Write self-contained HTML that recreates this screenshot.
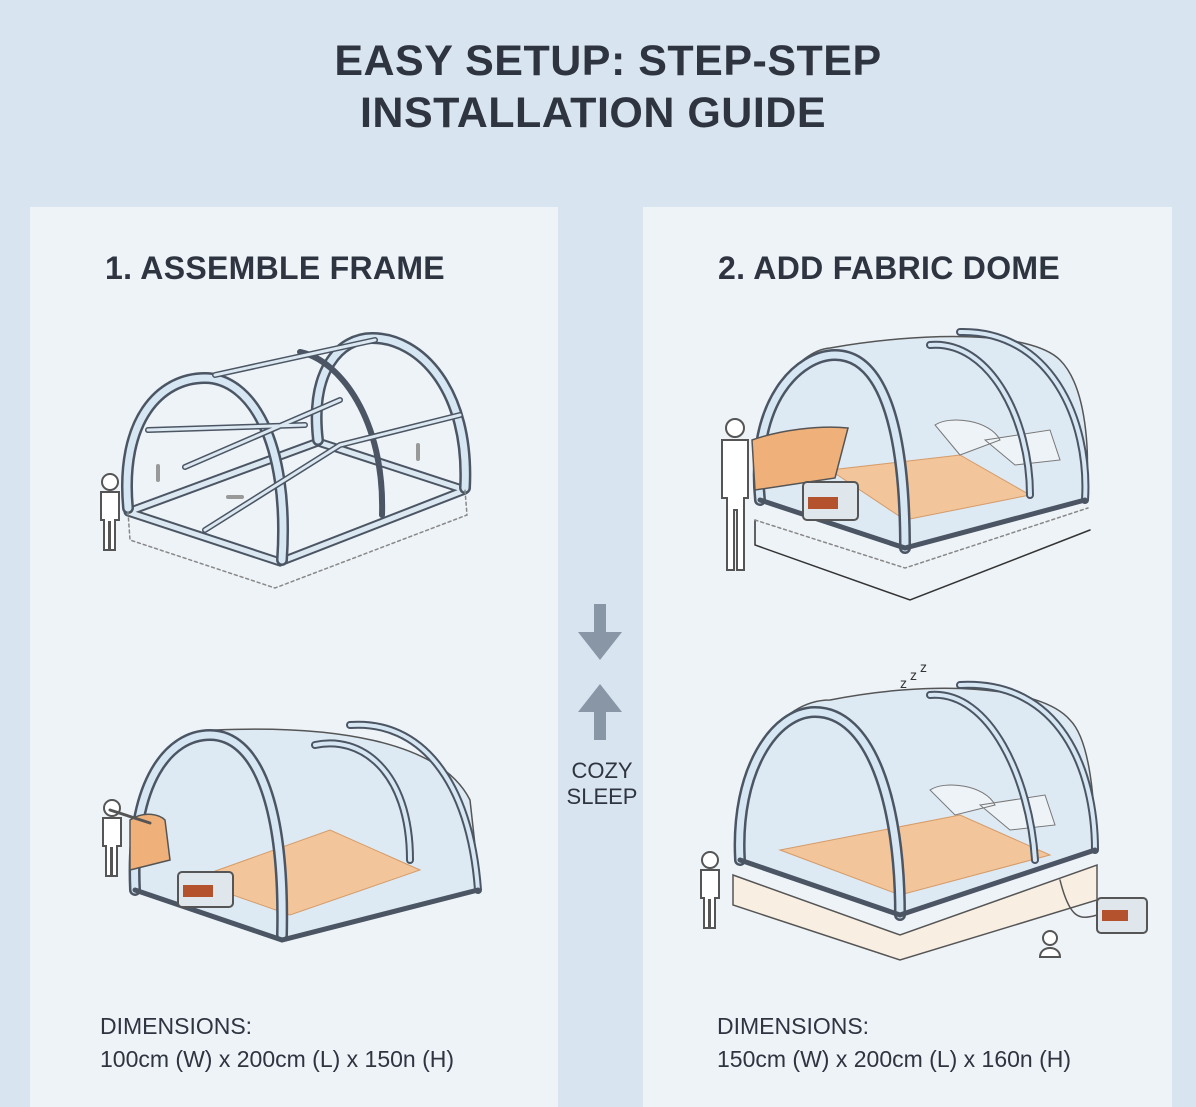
<!DOCTYPE html>
<html><head><meta charset="utf-8"><style>
html,body{margin:0;padding:0}
body{width:1196px;height:1088px;background:#d8e4ef;position:relative;overflow:hidden;font-family:"Liberation Sans",sans-serif;color:#2e3440}
.t{position:absolute;left:10px;width:1196px;text-align:center;font-weight:bold;font-size:43px;line-height:52px;letter-spacing:0.5px}
.p{position:absolute;top:207px;height:900px;background:#eef3f8}
.h{position:absolute;font-weight:bold;font-size:32px;letter-spacing:0.3px}
.d{position:absolute;font-size:23px;line-height:33px}
svg{position:absolute;left:0;top:0}
</style></head><body>
<div class="t" style="top:35px">EASY SETUP: STEP-STEP</div>
<div class="t" style="top:87px;left:-5px">INSTALLATION GUIDE</div>
<div class="p" style="left:30px;width:528px"></div>
<div class="p" style="left:643px;width:529px"></div>
<div class="h" style="left:105px;top:250px">1. ASSEMBLE FRAME</div>
<div class="h" style="left:718px;top:250px">2. ADD FABRIC DOME</div>
<div class="d" style="left:100px;top:1010px">DIMENSIONS:<br>100cm (W) x 200cm (L) x 150n (H)</div>
<div class="d" style="left:717px;top:1010px">DIMENSIONS:<br>150cm (W) x 200cm (L) x 160n (H)</div>
<div class="d" style="left:560px;top:758px;width:84px;text-align:center;font-size:22px;line-height:26px">COZY<br>SLEEP</div>
<svg width="1196" height="1088" viewBox="0 0 1196 1088">
<defs>
<g id="man"><circle cx="0" cy="-10" r="8" fill="#fff" stroke="#555" stroke-width="2"/><path d="M-9 0h18v28h-4v30h-5v-28h-1v28h-5v-30h-3z" fill="#fff" stroke="#555" stroke-width="2"/></g>
</defs>
<g fill="none" stroke-linecap="round">
<path d="M594 604v28h-16l22 28 22-28h-16v-28z" fill="#8896a6" stroke="none"/>
<path d="M594 740v-28h-16l22-28 22 28h-16v28z" fill="#8896a6" stroke="none"/>
<!-- step1 frame -->
<path d="M128 512 L280 562 L465 490 M128 512 L318 442 L465 490" stroke="#4b5563" stroke-width="9"/>
<path d="M128 512 L280 562 L465 490 M128 512 L318 442 L465 490" stroke="#dbe7f1" stroke-width="5"/>
<path d="M128 508 C120 420 160 378 205 378 C250 378 290 440 282 560" stroke="#4b5563" stroke-width="12"/>
<path d="M128 508 C120 420 160 378 205 378 C250 378 290 440 282 560" stroke="#d6e6f2" stroke-width="7"/>
<path d="M318 440 C310 370 340 338 372 338 C420 338 470 390 465 488" stroke="#4b5563" stroke-width="12"/>
<path d="M318 440 C310 370 340 338 372 338 C420 338 470 390 465 488" stroke="#d6e6f2" stroke-width="7"/>
<path d="M300 352 C340 360 385 420 382 515" stroke="#4b5563" stroke-width="6"/>
<path d="M215 375 L375 340 M148 430 L305 425 M185 467 L340 400 M205 530 L340 445 L460 415" stroke="#4b5563" stroke-width="6"/>
<path d="M215 375 L375 340 M148 430 L305 425 M185 467 L340 400 M205 530 L340 445 L460 415" stroke="#dbe7f1" stroke-width="3"/>
<path d="M128 512 L130 540 L275 588 L467 515 L465 490" stroke="#888" stroke-width="1.5" stroke-dasharray="3 3"/>
<use href="#man" x="110" y="492"/>
<path d="M158 480v-14M228 497h14M418 445v14" stroke="#999" stroke-width="4"/>
<!-- step1 bottom dome -->
<path d="M135 890 C130 760 180 730 215 730 C330 725 440 740 470 800 L480 890 L280 940 Z" fill="#dde9f3" stroke="#555" stroke-width="1.5"/>
<path d="M190 880 L290 915 L420 870 L330 830 Z" fill="#f3c59a" stroke="#d59b68"/>
<path d="M135 890 C130 780 170 735 210 735 C255 735 285 800 282 935" stroke="#4b5563" stroke-width="12"/>
<path d="M135 890 C130 780 170 735 210 735 C255 735 285 800 282 935" stroke="#d6e6f2" stroke-width="7"/>
<path d="M315 745 C360 735 410 770 410 860 M350 725 C420 720 470 780 478 890" stroke="#4b5563" stroke-width="8"/>
<path d="M315 745 C360 735 410 770 410 860 M350 725 C420 720 470 780 478 890" stroke="#d6e6f2" stroke-width="4"/>
<path d="M135 890 L282 940 L478 890" stroke="#4b5563" stroke-width="5"/>
<path d="M130 820 C145 810 160 815 165 820 L170 860 L130 870 Z" fill="#f0b07a" stroke="#555" stroke-width="1.5"/>
<rect x="178" y="872" width="55" height="35" rx="4" fill="#dfe6ec" stroke="#555" stroke-width="2"/>
<rect x="183" y="885" width="30" height="12" fill="#b5522e"/>
<use href="#man" x="112" y="818"/>
<path d="M110 810 L150 823" stroke="#555" stroke-width="3"/>
<!-- step2 top dome -->
<path d="M760 500 C750 400 800 350 830 348 C920 332 1030 330 1060 360 C1090 390 1090 470 1085 500 L905 548 Z" fill="#dde9f3" stroke="#555" stroke-width="1.5"/>
<path d="M830 470 L905 520 L1030 495 L960 455 Z" fill="#f3c59a" stroke="#d59b68"/>
<path d="M935 425 C950 415 990 420 1000 440 L960 455 Z M985 440 L1050 430 L1060 460 L1015 465 Z" fill="#eef3f8" stroke="#777"/>
<path d="M760 500 C750 400 800 355 835 355 C880 355 905 420 905 548" stroke="#4b5563" stroke-width="12"/>
<path d="M760 500 C750 400 800 355 835 355 C880 355 905 420 905 548" stroke="#d6e6f2" stroke-width="7"/>
<path d="M930 345 C990 340 1030 420 1030 495 M960 332 C1050 330 1090 420 1085 500" stroke="#4b5563" stroke-width="8"/>
<path d="M930 345 C990 340 1030 420 1030 495 M960 332 C1050 330 1090 420 1085 500" stroke="#d6e6f2" stroke-width="4"/>
<path d="M760 500 L905 548 L1085 500" stroke="#4b5563" stroke-width="5"/>
<path d="M755 520 L755 545 L910 600 L1090 530" stroke="#333" stroke-width="1.5"/>
<path d="M755 520 L905 568 L1088 508" stroke="#888" stroke-width="1.5" stroke-dasharray="3 3"/>
<circle cx="735" cy="428" r="9" fill="#fff" stroke="#555" stroke-width="2"/>
<path d="M722 440 h26 v58 h-4 v72 h-7 v-60 h-3 v60 h-7 v-72 h-5 z" stroke="#555" stroke-width="2" fill="#fff"/>
<path d="M752 440 C780 430 820 425 848 428 L835 478 L755 490 Z" fill="#f0b07a" stroke="#555" stroke-width="1.5"/>
<rect x="803" y="482" width="55" height="38" rx="4" fill="#dfe6ec" stroke="#555" stroke-width="2"/>
<rect x="808" y="497" width="30" height="12" fill="#b5522e"/>
<!-- step2 bottom dome -->
<path d="M733 875 L900 935 L1097 865 L1097 900 L900 960 L733 905 Z" fill="#f8efe2" stroke="#555" stroke-width="1.5"/>
<path d="M740 860 C735 760 780 700 830 700 C930 680 1040 685 1070 720 C1090 740 1095 800 1095 850 L900 915 Z" fill="#dde9f3" stroke="#555" stroke-width="1.5"/>
<path d="M780 850 L900 895 L1050 855 L960 815 Z" fill="#f3c59a" stroke="#d59b68"/>
<path d="M930 790 C945 780 985 785 995 805 L955 815 Z M980 805 L1045 795 L1055 825 L1010 830 Z" fill="#eef3f8" stroke="#777"/>
<path d="M740 860 C735 770 775 712 815 712 C870 712 900 800 900 915" stroke="#4b5563" stroke-width="12"/>
<path d="M740 860 C735 770 775 712 815 712 C870 712 900 800 900 915" stroke="#d6e6f2" stroke-width="7"/>
<path d="M930 695 C990 690 1030 780 1035 860 M960 685 C1060 680 1095 770 1095 850" stroke="#4b5563" stroke-width="8"/>
<path d="M930 695 C990 690 1030 780 1035 860 M960 685 C1060 680 1095 770 1095 850" stroke="#d6e6f2" stroke-width="4"/>
<path d="M740 860 L900 915 L1095 850" stroke="#4b5563" stroke-width="5"/>
<use href="#man" x="710" y="870"/>
<rect x="1097" y="898" width="50" height="35" rx="4" fill="#dfe6ec" stroke="#555" stroke-width="2"/>
<rect x="1102" y="910" width="26" height="11" fill="#b5522e"/>
<path d="M1060 880 C1070 920 1080 920 1097 915" stroke="#555" stroke-width="1.5"/>
<circle cx="1050" cy="938" r="7" fill="#fff" stroke="#555" stroke-width="2"/>
<path d="M1040 957 C1040 945 1060 945 1060 957 Z" fill="#fff" stroke="#555" stroke-width="2"/>
</g>
<text x="900" y="688" font-family="Liberation Sans" font-size="14" fill="#333">z</text>
<text x="910" y="680" font-family="Liberation Sans" font-size="14" fill="#333">z</text>
<text x="920" y="672" font-family="Liberation Sans" font-size="14" fill="#333">z</text>
</svg>
</body></html>
